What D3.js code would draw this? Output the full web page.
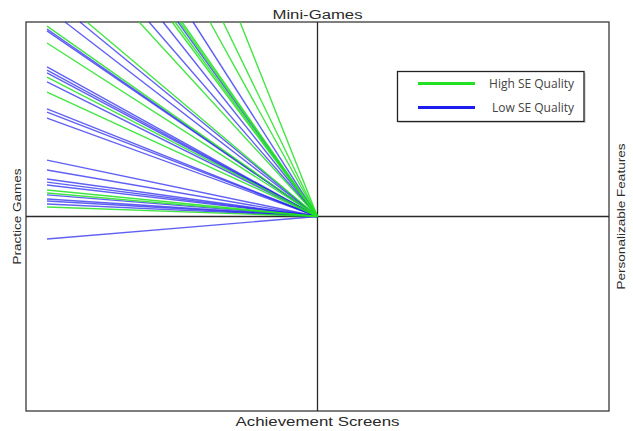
<!DOCTYPE html>
<html>
<head>
<meta charset="utf-8">
<script src="https://cdn.jsdelivr.net/npm/d3@7"></script>
<style>
  html, body { margin: 0; padding: 0; background: #fff; }
  svg { display: block; }
</style>
</head>
<body>
<svg id="chart" width="633" height="431"></svg>
<script>
// ---- Data (endpoint of each profile line; all lines start at the origin) ----
// x: Practice Games (-) ... Personalizable Features (+)
// y: Achievement Screens (-) ... Mini-Games (+)
const highX = [-0.791, -0.612, -0.499, -0.489, -0.472, -0.465, -0.369, -0.324, -0.266,
               -0.928, -0.928, -0.928, -0.928, -0.928, -0.928, -0.928];
const highY = [1, 1, 1, 1, 1, 1, 1, 1, 1,
               0.979, 0.892, 0.717, 0.640, 0.136, 0.121, 0.049];
const lowX  = [-0.866, -0.815, -0.578, -0.530, -0.479, -0.427,
               -0.928, -0.928, -0.928, -0.928, -0.928, -0.928, -0.928, -0.928, -0.928,
               -0.928, -0.928, -0.928, -0.928, -0.928, -0.928, -0.928, -0.928, -0.928, -0.928];
const lowY  = [1, 1, 1, 1, 1, 1,
               0.964, 0.954, 0.769, 0.753, 0.738, 0.692, 0.553, 0.537, 0.506,
               0.290, 0.239, 0.193, 0.177, 0.162, 0.111, 0.090, 0.080, 0.064, -0.116];

const seriesNames = ["High SE Quality", "Low SE Quality"];
const axisLabels = { top: "Mini-Games", bottom: "Achievement Screens",
                     left: "Practice Games", right: "Personalizable Features" };

// ---- Layout ----
const svg = d3.select("#chart");
const L = 26, R = 609, T = 22, B = 411;
const x = d3.scaleLinear().domain([-1, 1]).range([L, R]);
const y = d3.scaleLinear().domain([-1, 1]).range([B, T]);

const green = "#22e022", blue = "#1c1cee";

// frame
svg.append("rect").attr("x", L).attr("y", T).attr("width", R - L).attr("height", B - T)
  .attr("fill", "none").attr("stroke", "#3a3a3a").attr("stroke-width", 1.3);
// cross axes
svg.append("line").attr("x1", x(0)).attr("x2", x(0)).attr("y1", T).attr("y2", B)
  .attr("stroke", "#2a2a2a").attr("stroke-width", 1.3);
svg.append("line").attr("x1", L).attr("x2", R).attr("y1", y(0)).attr("y2", y(0))
  .attr("stroke", "#2a2a2a").attr("stroke-width", 1.3);

const toPts = (xs, ys) => ys.map((v, i) => ({ x: xs[i], y: v }));
const g = svg.append("g");
function drawSeries(pts, color, op) {
  g.selectAll(null).data(pts).enter().append("line")
    .attr("x1", x(0)).attr("y1", y(0))
    .attr("x2", d => x(d.x)).attr("y2", d => y(d.y))
    .attr("stroke", color).attr("stroke-width", 1.4).attr("stroke-opacity", op);
}
drawSeries(toPts(lowX, lowY), blue, 0.7);
drawSeries(toPts(highX, highY), green, 0.85);

// axis labels
const lab = { fill: "#2a2a2a", family: "Liberation Sans, Arial, sans-serif" };
svg.append("text").text(axisLabels.top).attr("x", x(0)).attr("y", 19)
  .attr("text-anchor", "middle").attr("font-size", 12.5).attr("font-family", lab.family)
  .attr("fill", lab.fill).attr("textLength", 90).attr("lengthAdjust", "spacingAndGlyphs");
svg.append("text").text(axisLabels.bottom).attr("x", x(0)).attr("y", 426)
  .attr("text-anchor", "middle").attr("font-size", 12.5).attr("font-family", lab.family)
  .attr("fill", lab.fill).attr("textLength", 164).attr("lengthAdjust", "spacingAndGlyphs");
svg.append("text").text(axisLabels.left)
  .attr("transform", `translate(21,${y(0)}) rotate(-90)`)
  .attr("text-anchor", "middle").attr("font-size", 11).attr("font-family", lab.family)
  .attr("fill", lab.fill).attr("textLength", 96).attr("lengthAdjust", "spacingAndGlyphs");
svg.append("text").text(axisLabels.right)
  .attr("transform", `translate(625,${y(0)}) rotate(-90)`)
  .attr("text-anchor", "middle").attr("font-size", 11).attr("font-family", lab.family)
  .attr("fill", lab.fill).attr("textLength", 146).attr("lengthAdjust", "spacingAndGlyphs");

// legend
const lg = svg.append("g");
lg.append("rect").attr("x", 399).attr("y", 73).attr("width", 187).attr("height", 50)
  .attr("fill", "#bbb").attr("opacity", 0.5);
lg.append("rect").attr("x", 397.5).attr("y", 71.5).attr("width", 186.5).attr("height", 50)
  .attr("fill", "#fff").attr("stroke", "#222").attr("stroke-width", 1.3);
const legY = [83.5, 107.5];
[green, blue].forEach((c, i) => {
  lg.append("line").attr("x1", 418).attr("x2", 475).attr("y1", legY[i]).attr("y2", legY[i])
    .attr("stroke", c).attr("stroke-width", 3);
  lg.append("text").text(seriesNames[i]).attr("x", 574).attr("y", legY[i] + 4)
    .attr("text-anchor", "end").attr("font-size", 12).attr("font-family", "Open Sans, sans-serif")
    .attr("fill", "#444");
});
</script>
</body>
</html>
